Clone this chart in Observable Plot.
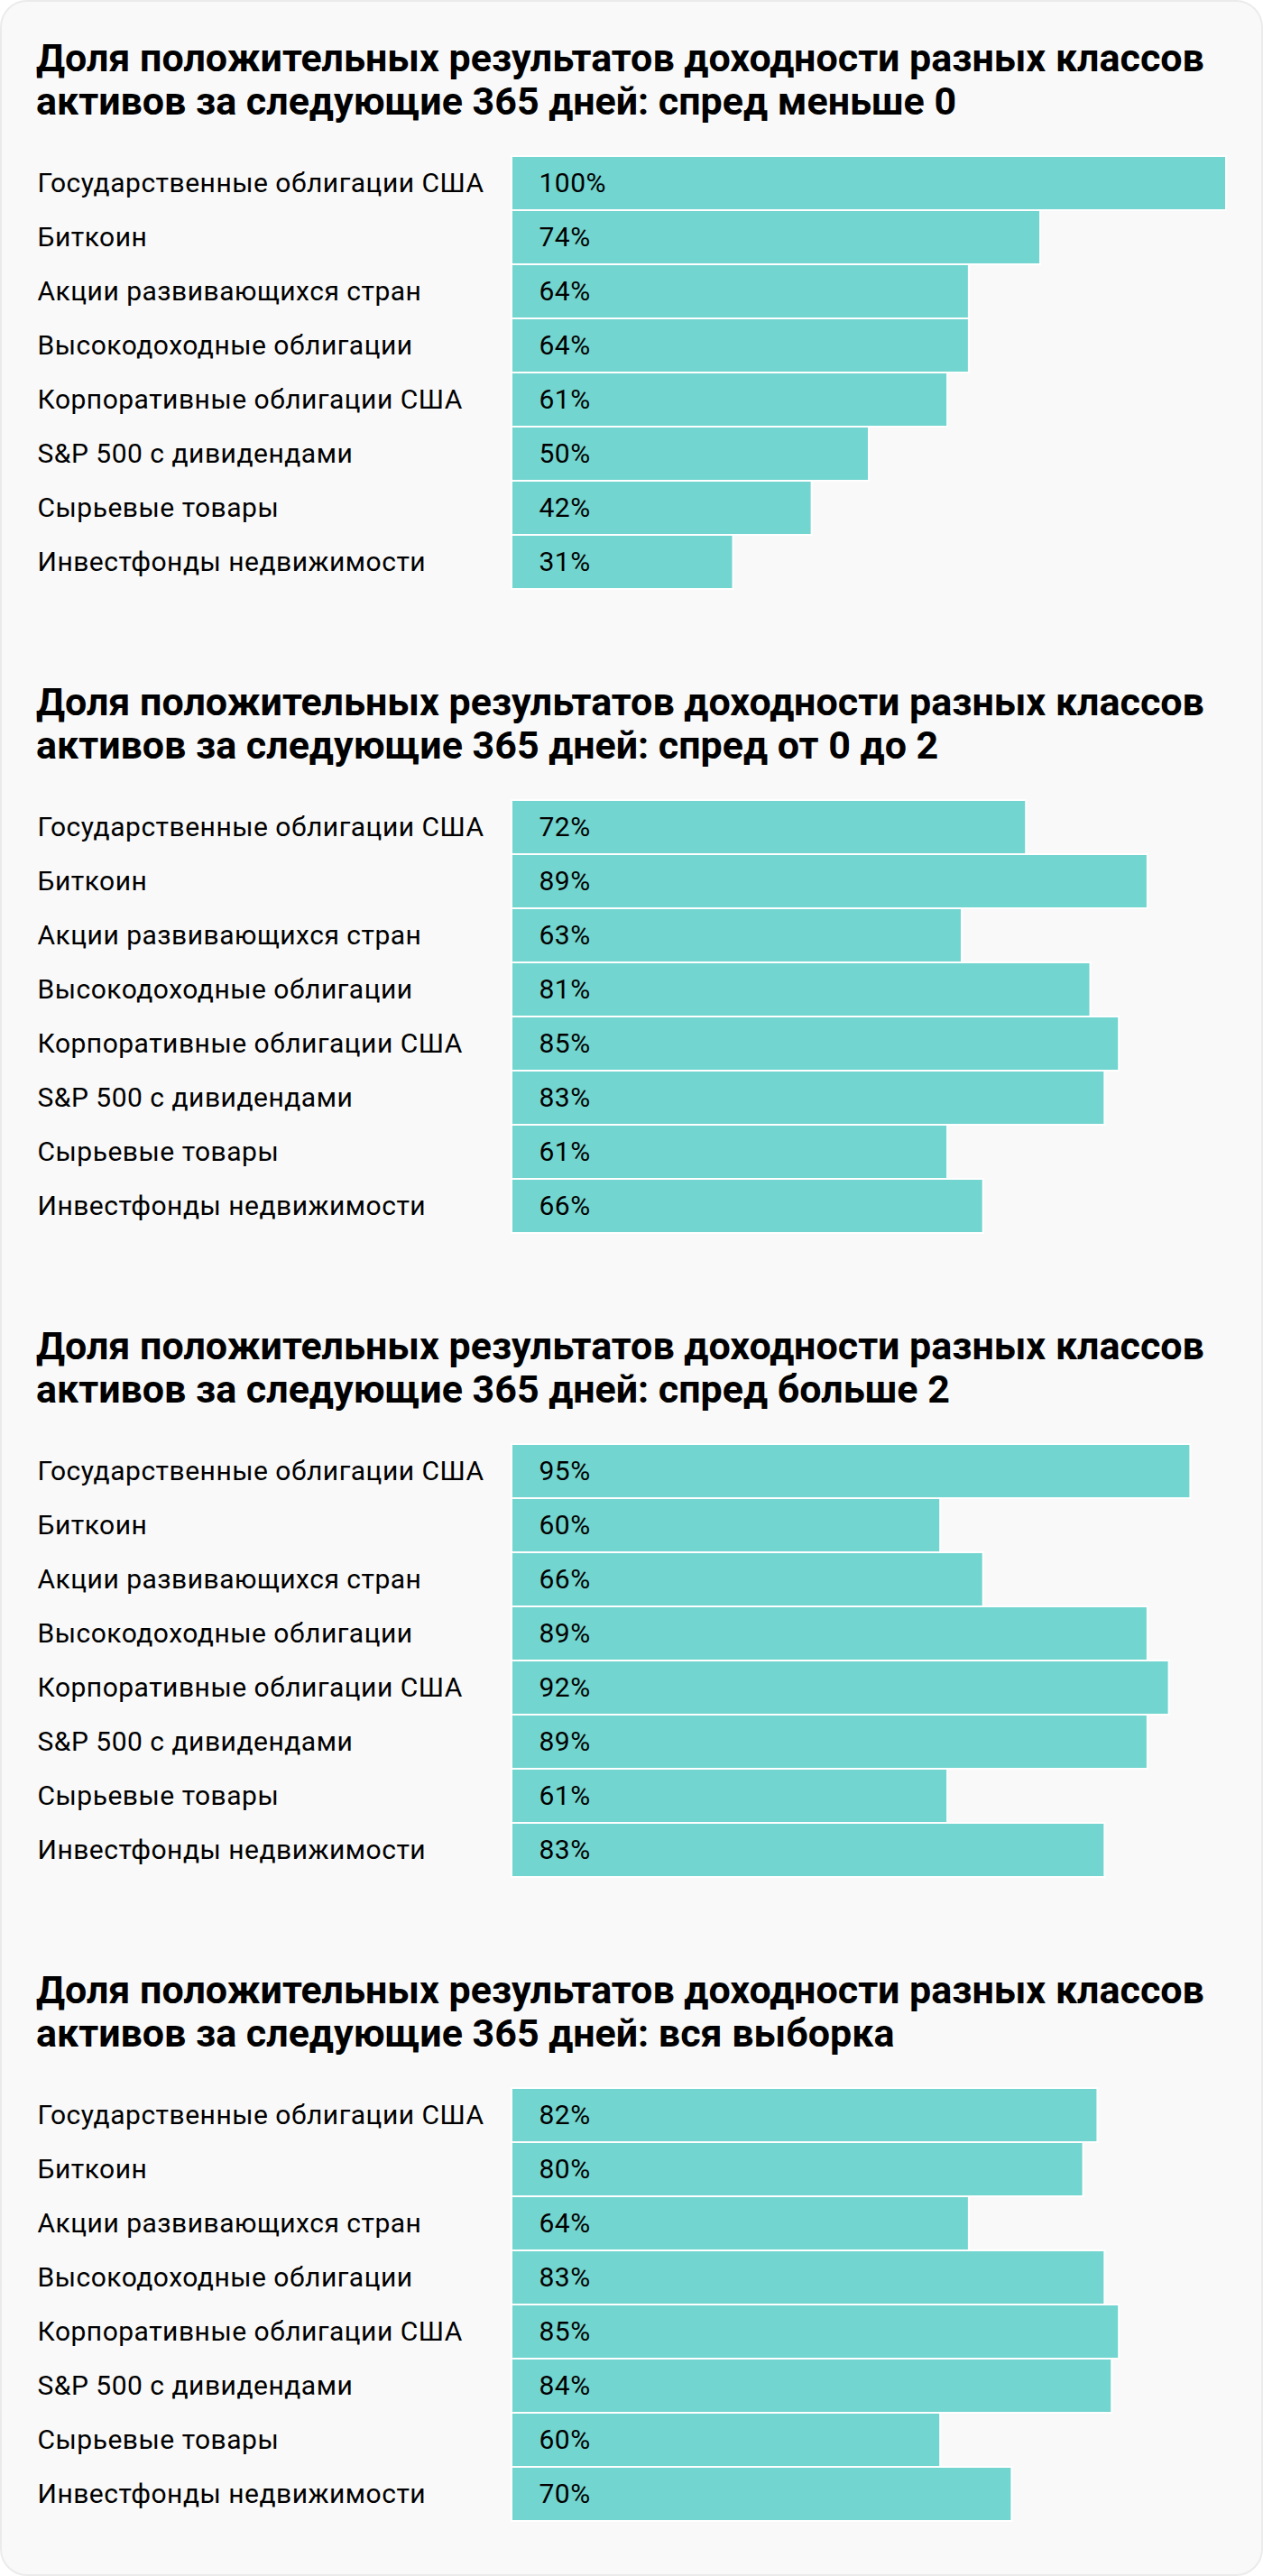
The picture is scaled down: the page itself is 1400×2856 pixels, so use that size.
<!DOCTYPE html>
<html>
<head>
<meta charset="utf-8">
<script src="https://cdn.jsdelivr.net/npm/d3@7"></script>
<script src="https://cdn.jsdelivr.net/npm/@observablehq/plot@0.6"></script>
<style>
  html, body { margin: 0; padding: 0; background: #ffffff; }
  #card {
    position: absolute; left: 0; top: 0; width: 1400px; height: 2856px;
    box-sizing: border-box; border: 2px solid #ebebeb; border-radius: 30px;
    background: #f9f9f9;
  }
  .section { position: absolute; left: 0; width: 1400px; height: 714px; }
  .title {
    position: absolute; left: 40px; top: 40px; width: 1345px;
    font-family: Roboto, "Noto Sans", sans-serif; font-weight: 700;
    font-size: 43px; line-height: 48px; color: #000; margin: 0;
    letter-spacing: 0px;
  }
  .chart { position: absolute; left: 0; top: 171px; }
  .chart svg { display: block; }
  .chart svg text { letter-spacing: 0.5px; }
</style>
</head>
<body>
<div id="card"></div>
<div id="root"></div>
<script>
const categories = [
  "Государственные облигации США",
  "Биткоин",
  "Акции развивающихся стран",
  "Высокодоходные облигации",
  "Корпоративные облигации США",
  "S&P 500 с дивидендами",
  "Сырьевые товары",
  "Инвестфонды недвижимости"
];

const titles = [
  "Доля положительных результатов доходности разных классов активов за следующие 365 дней: спред меньше 0",
  "Доля положительных результатов доходности разных классов активов за следующие 365 дней: спред от 0 до 2",
  "Доля положительных результатов доходности разных классов активов за следующие 365 дней: спред больше 2",
  "Доля положительных результатов доходности разных классов активов за следующие 365 дней: вся выборка"
];

const spreadBelow0   = [100, 74, 64, 64, 61, 50, 42, 31];
const spread0to2     = [72, 89, 63, 81, 85, 83, 61, 66];
const spreadAbove2   = [95, 60, 66, 89, 92, 89, 61, 83];
const fullSample     = [82, 80, 64, 83, 85, 84, 60, 70];

const seriesList = [spreadBelow0, spread0to2, spreadAbove2, fullSample];

const root = document.getElementById("root");
const labelFont = "Roboto, 'Noto Sans', sans-serif";

seriesList.forEach((values, k) => {
  const data = categories.map((c, i) => ({ name: c, value: values[i] }));
  const sec = document.createElement("div");
  sec.className = "section";
  sec.style.top = (k * 714) + "px";
  const h = document.createElement("div");
  h.className = "title";
  h.textContent = titles[k];
  sec.appendChild(h);

  const chart = Plot.plot({
    width: 1400,
    height: 484,
    marginLeft: 567,
    marginRight: 41,
    marginTop: 2,
    marginBottom: 2,
    style: { background: "transparent", fontFamily: labelFont, overflow: "visible" },
    x: { domain: [0, 100], axis: null },
    y: { domain: categories, axis: null, padding: 0 },
    marks: [
      Plot.barX(data, {
        x: "value", y: "name",
        fill: "#72d5cf", stroke: "#ffffff", strokeWidth: 2
      }),
      Plot.text(data, {
        y: "name", text: "name", frameAnchor: "left",
        textAnchor: "start", dx: 41 - 567,
        fontSize: 30, fill: "#000"
      }),
      Plot.text(data, {
        x: 0, y: "name", text: d => d.value + "%",
        textAnchor: "start", dx: 30,
        fontSize: 30, fill: "#000"
      })
    ]
  });
  const wrap = document.createElement("div");
  wrap.className = "chart";
  wrap.appendChild(chart);
  sec.appendChild(wrap);
  root.appendChild(sec);
});
</script>
</body>
</html>
